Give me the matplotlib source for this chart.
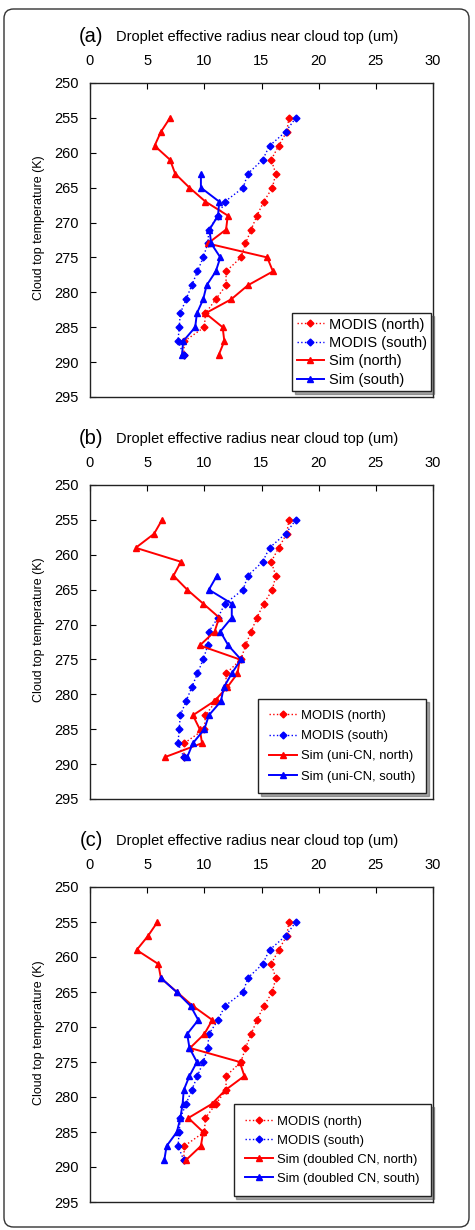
import matplotlib
matplotlib.use("Agg")
import matplotlib.pyplot as plt
from matplotlib.patches import FancyBboxPatch

plt.rcParams['font.family'] = ['Liberation Sans', 'DejaVu Sans']

# ----------------------------------------------------------------
# Data
# ----------------------------------------------------------------
temp_all = [255, 257, 259, 261, 263, 265, 267, 269, 271,
            273, 275, 277, 279, 281, 283, 285, 287, 289]
temp_south = [263, 265, 267, 269, 271, 273, 275, 277, 279,
              281, 283, 285, 287, 289]

modis_north = [17.4, 17.2, 16.5, 15.85, 16.25, 15.95, 15.2, 14.6, 14.1,
               13.6, 13.2, 11.9, 11.9, 11.0, 10.1, 10.0, 8.25, 8.2]
modis_south = [18.0, 17.1, 15.7, 15.1, 13.8, 13.4, 11.8, 11.2, 10.4,
               10.3, 9.9, 9.4, 8.9, 8.4, 7.9, 7.8, 7.7, 8.2]

sim_a_north = [7.0, 6.2, 5.65, 7.0, 7.45, 8.7, 10.1, 12.05, 11.9,
               10.3, 15.5, 16.0, 13.8, 12.35, 10.1, 11.6, 11.75, 11.25]
sim_a_south = [9.7, 9.7, 11.3, 11.2, 10.45, 10.6, 11.4, 11.0, 10.2,
               9.9, 9.35, 9.2, 8.15, 8.05]

sim_b_north = [6.3, 5.6, 4.0, 7.95, 7.3, 8.5, 9.9, 11.3, 10.9,
               9.6, 13.1, 12.9, 12.0, 10.85, 9.0, 9.6, 9.8, 6.55]
sim_b_south = [11.1, 10.4, 12.4, 12.4, 11.4, 12.1, 13.2, 12.4, 11.7,
               11.45, 10.4, 10.0, 9.0, 8.5]

sim_c_north = [5.9, 5.07, 4.08, 5.97, 6.2, 7.6, 9.0, 10.7, 10.0,
               8.75, 13.1, 13.5, 11.85, 10.65, 8.6, 9.9, 9.7, 8.4]
sim_c_south = [6.2, 7.57, 8.8, 9.47, 8.5, 8.7, 9.35, 8.7, 8.2,
               8.1, 7.9, 7.6, 6.7, 6.5]

panel_tags = ["(a)", "(b)", "(c)"]
sim_labels = [("Sim (north)", "Sim (south)"),
              ("Sim (uni-CN, north)", "Sim (uni-CN, south)"),
              ("Sim (doubled CN, north)", "Sim (doubled CN, south)")]
sim_north = [sim_a_north, sim_b_north, sim_c_north]
sim_south = [sim_a_south, sim_b_south, sim_c_south]

XTITLE = "Droplet effective radius near cloud top (um)"
YTITLE = "Cloud top temperature (K)"

# ----------------------------------------------------------------
# Layout (pixel coordinates of the original, 475 x 1230)
# ----------------------------------------------------------------
W, H = 475, 1230
ax_left, ax_right = 90, 433
ax_tops = [83, 485, 887]
ax_bots = [397, 799, 1202]
legend_corner = [(431, 391), (426, 793), (431, 1196)]   # lower right
legend_fs = [10.5, 9.4, 9.4]
legend_pad = [0.3, 0.8, 0.85]
legend_spacing = [0.3, 0.62, 0.53]
legend_handle = [1.9, 2.2, 2.2]

fig = plt.figure(figsize=(W / 100, H / 100), dpi=100)

# outer rounded frame
frame = FancyBboxPatch((4 / W, 1 - 1227 / H), 465 / W, 1218 / H,
                       boxstyle="round,pad=0,rounding_size=0.02",
                       transform=fig.transFigure, fill=False,
                       edgecolor="#333333", lw=1.0, mutation_aspect=W / H)
fig.patches.append(frame)

for i in range(3):
    top, bot = ax_tops[i], ax_bots[i]
    ax = fig.add_axes([ax_left / W, 1 - bot / H,
                       (ax_right - ax_left) / W, (bot - top) / H])

    ax.plot(modis_north, temp_all, color="red", ls=":", lw=1.0,
            marker="D", ms=3.5, label="MODIS (north)")
    ax.plot(modis_south, temp_all, color="blue", ls=":", lw=1.0,
            marker="D", ms=3.5, label="MODIS (south)")
    ax.plot(sim_north[i], temp_all, color="red", ls="-", lw=1.4,
            marker="^", ms=5, label=sim_labels[i][0])
    ax.plot(sim_south[i], temp_south, color="blue", ls="-", lw=1.4,
            marker="^", ms=5, label=sim_labels[i][1])

    ax.set_xlim(0, 30)
    ax.set_ylim(295, 250)
    ax.set_xticks(range(0, 31, 5))
    ax.set_yticks(range(250, 296, 5))
    ax.xaxis.tick_top()
    ax.tick_params(axis="x", direction="in", top=True, bottom=False,
                   labelsize=10.5, pad=11, length=4)
    ax.tick_params(axis="y", direction="in", left=True, right=False,
                   labelsize=10.5, pad=8, length=4)
    for s in ax.spines.values():
        s.set_linewidth(1.0)
        s.set_color("#222222")

    # legend anchored by its lower-right corner
    lx, ly = legend_corner[i]
    leg = ax.legend(loc="lower right",
                    bbox_to_anchor=(lx / W, 1 - ly / H),
                    bbox_transform=fig.transFigure,
                    fontsize=legend_fs[i], fancybox=False,
                    shadow=True, framealpha=1, edgecolor="#222222",
                    handlelength=legend_handle[i], handletextpad=0.3,
                    labelspacing=legend_spacing[i],
                    borderpad=legend_pad[i], borderaxespad=0)
    leg.get_frame().set_linewidth(1.0)

    # panel titles
    ty = ax_tops[i] - 46
    fig.text(91 / W, 1 - ty / H, panel_tags[i], fontsize=14.5,
             ha="center", va="center")
    fig.text(116 / W, 1 - ty / H, XTITLE, fontsize=10.5,
             ha="left", va="center")
    fig.text(39 / W, 1 - ((top + bot) / 2 - 12) / H, YTITLE, fontsize=9,
             rotation=90, ha="center", va="center")

fig.savefig("out.png", dpi=100)
